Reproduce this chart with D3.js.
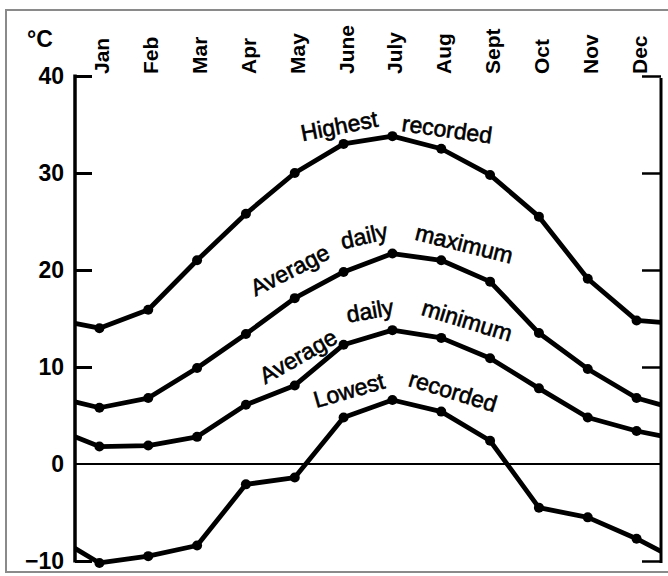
<!DOCTYPE html>
<html>
<head>
<meta charset="utf-8">
<script src="https://cdn.jsdelivr.net/npm/d3@7"></script>
<style>
  html, body { margin: 0; padding: 0; background: #fff; }
  svg { display: block; }
</style>
</head>
<body>
<svg id="chart" width="668" height="576"></svg>
<script>
// ---- data ----
const months = ["Jan","Feb","Mar","Apr","May","June","July","Aug","Sept","Oct","Nov","Dec"];
const yTicks = [40, 30, 20, 10, 0, -10];
const yTickLabels = ["40", "30", "20", "10", "0", "\u221210"];

const highestRecorded = [14.0, 15.9, 21.0, 25.8, 30.0, 33.0, 33.8, 32.5, 29.8, 25.5, 19.1, 14.8];
const avgDailyMax     = [5.8, 6.8, 9.9, 13.4, 17.1, 19.8, 21.7, 21.0, 18.8, 13.5, 9.8, 6.8];
const avgDailyMin     = [1.8, 1.9, 2.8, 6.1, 8.1, 12.3, 13.8, 13.0, 10.9, 7.8, 4.8, 3.4];
const lowestRecorded  = [-10.2, -9.5, -8.4, -2.1, -1.4, 4.8, 6.6, 5.4, 2.4, -4.5, -5.5, -7.7];

// values where each curve meets the left and right axes (year wrap)
const highestEdges = [14.5, 14.6];
const avgMaxEdges  = [6.4, 6.1];
const avgMinEdges  = [2.8, 2.9];
const lowestEdges  = [-8.7, -9.0];

const seriesLabels = [
  ["Highest", "recorded"],
  ["Average", "daily", "maximum"],
  ["Average", "daily", "minimum"],
  ["Lowest", "recorded"]
];

// ---- layout ----
const svg = d3.select("#chart");
const x = d3.scaleLinear().domain([-0.5, 11.5]).range([75, 661]);
const y = d3.scaleLinear().domain([-10, 40]).range([561, 76]);

// frame
svg.append("rect").attr("x", 6).attr("y", 10).attr("width", 700).attr("height", 562)
  .attr("fill", "none").attr("stroke", "#8a8a8a").attr("stroke-width", 2);

// zero line
svg.append("line").attr("x1", x(-0.5)).attr("x2", x(11.5)).attr("y1", y(0)).attr("y2", y(0))
  .attr("stroke", "#000").attr("stroke-width", 2);

// left axis
const leftAxis = d3.axisRight(y).tickValues(yTicks.filter(v => v !== 0)).tickSize(17).tickFormat("");
const gL = svg.append("g").attr("transform", `translate(${x(-0.5)},0)`).call(leftAxis);
gL.select(".domain").remove();
gL.selectAll(".tick line").attr("stroke", "#000").attr("stroke-width", 3);
svg.append("line").attr("x1", x(-0.5)).attr("x2", x(-0.5)).attr("y1", y(40) - 1.5).attr("y2", y(-10) + 1.5)
  .attr("stroke", "#000").attr("stroke-width", 3.5);

// right axis
const rightAxis = d3.axisLeft(y).tickValues(yTicks.filter(v => v !== 0)).tickSize(19).tickFormat("");
const gR = svg.append("g").attr("transform", `translate(${x(11.5)},0)`).call(rightAxis);
gR.select(".domain").remove();
gR.selectAll(".tick line").attr("stroke", "#000").attr("stroke-width", 2.5);
svg.append("line").attr("x1", x(11.5)).attr("x2", x(11.5)).attr("y1", y(40) + 2).attr("y2", y(-10) + 2)
  .attr("stroke", "#000").attr("stroke-width", 3);

// y tick labels
svg.append("g").selectAll("text").data(yTicks).join("text")
  .attr("x", 64).attr("y", d => y(d))
  .attr("text-anchor", "end").attr("dominant-baseline", "central")
  .attr("font-family", "Liberation Sans, Arial, sans-serif").attr("font-weight", "bold")
  .attr("font-size", 23).text((d, i) => yTickLabels[i]);

// unit
svg.append("text").attr("x", 27).attr("y", 47)
  .attr("font-family", "Liberation Sans, Arial, sans-serif").attr("font-weight", "bold")
  .attr("font-size", 23).text("\u00B0C");

// month labels
svg.append("g").selectAll("text").data(months).join("text")
  .attr("transform", (d, i) => `translate(${x(i) + 10},74) rotate(-90)`)
  .attr("text-anchor", "start")
  .attr("font-family", "Liberation Sans, Arial, sans-serif").attr("font-weight", "bold")
  .attr("font-size", 21).text(d => d);

// curves
const allSeries = [
  [highestRecorded, highestEdges],
  [avgDailyMax, avgMaxEdges],
  [avgDailyMin, avgMinEdges],
  [lowestRecorded, lowestEdges]
];
const line = d3.line().x(d => x(d[0])).y(d => y(d[1]));
allSeries.forEach(([vals, edges]) => {
  const pts = [[-0.5, edges[0]], ...vals.map((v, i) => [i, v]), [11.5, edges[1]]];
  svg.append("path").attr("d", line(pts)).attr("fill", "none")
    .attr("stroke", "#000").attr("stroke-width", 4.8)
    .attr("stroke-linejoin", "round").attr("stroke-linecap", "butt");
  svg.append("g").selectAll("circle").data(vals).join("circle")
    .attr("cx", (d, i) => x(i)).attr("cy", d => y(d)).attr("r", 5).attr("fill", "#000");
});

// curve labels: [series, word, month position, value position, angle]
const labelPlacement = [
  [0, 0, 4.91, 34.85, -11], [0, 1, 7.12, 34.5, 8],
  [1, 0, 3.90, 20.0, -27], [1, 1, 5.42, 23.5, -13], [1, 2, 7.47, 22.7, 14],
  [2, 0, 4.07, 11.1, -30], [2, 1, 5.54, 15.8, -10], [2, 2, 7.53, 14.8, 17],
  [3, 0, 5.11, 7.6, -16], [3, 1, 7.24, 7.5, 17]
];
svg.append("g").selectAll("text").data(labelPlacement).join("text")
  .attr("transform", d => `translate(${x(d[2])},${y(d[3])}) rotate(${d[4]})`)
  .attr("text-anchor", "middle").attr("dominant-baseline", "central")
  .attr("font-family", "Liberation Sans, Arial, sans-serif")
  .attr("font-size", 23).attr("stroke", "#000").attr("stroke-width", 0.6)
  .text(d => seriesLabels[d[0]][d[1]]);
</script>
</body>
</html>
